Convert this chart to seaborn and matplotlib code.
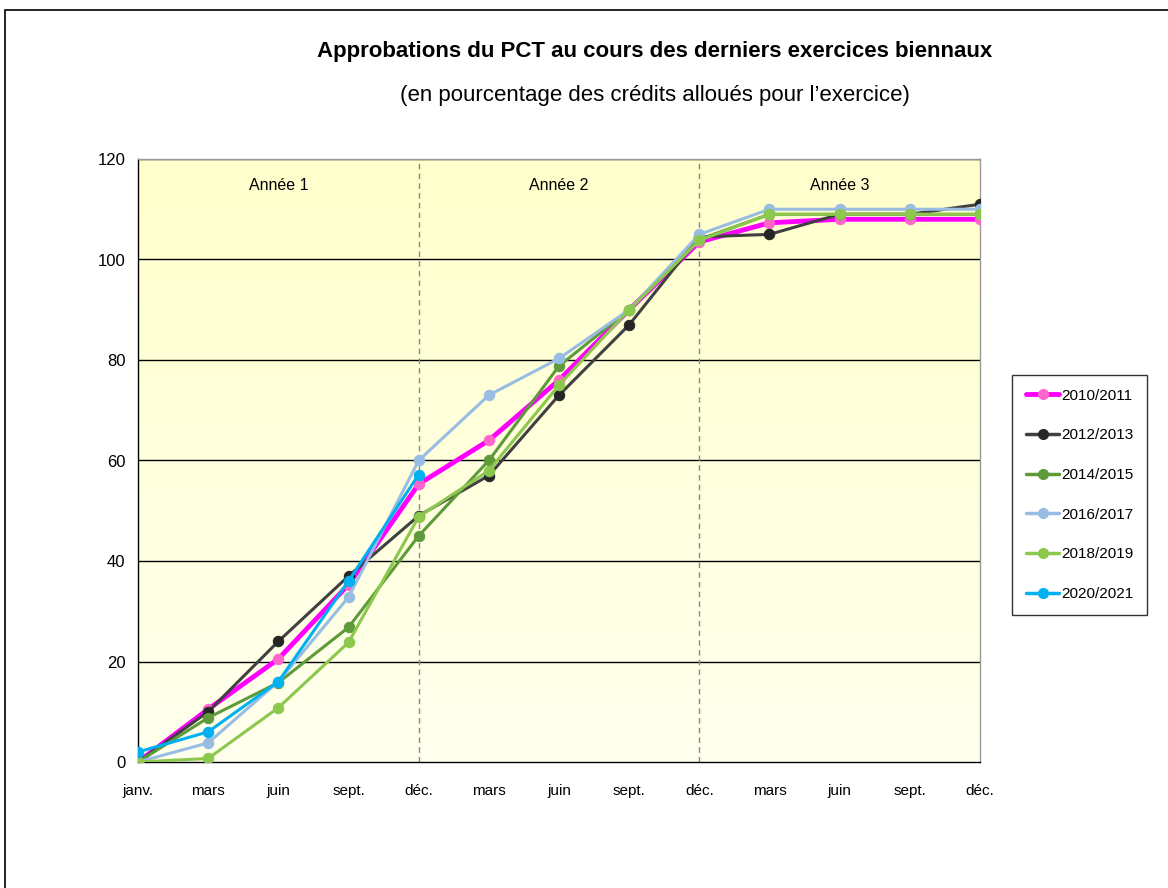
import numpy as np
import pandas as pd
import seaborn as sns
import matplotlib.pyplot as plt
from matplotlib.lines import Line2D
from matplotlib.patches import Rectangle
from matplotlib.colors import LinearSegmentedColormap

# données
mois = ['janv.', 'mars', 'juin', 'sept.', 'déc.', 'mars', 'juin', 'sept.', 'déc.',
        'mars', 'juin', 'sept.', 'déc.']
annees = ['Année 1', 'Année 2', 'Année 3']

s_2010 = [0, 10.5, 20.5, 35.3, 55.3, 64, 76, 90, 103.5, 107.3, 108, 108, 108]
s_2012 = [0, 10, 24, 37, 49, 57, 73, 87, 104.5, 105, 109, 109, 111]
s_2014 = [0, 8.8, 15.8, 26.8, 45, 60, 78.8, 90, 104, 109, 109, 109, 109]
s_2016 = [0, 3.8, 16, 32.8, 60, 73, 80.3, 90, 105, 110, 110, 110, 110]
s_2018 = [0, 0.7, 10.8, 23.8, 48.8, 58, 75, 90, 103.8, 109, 109, 109, 109]
s_2020 = [2, 6, 16, 36, 57.2]

series = {'2010/2011': s_2010, '2012/2013': s_2012, '2014/2015': s_2014,
          '2016/2017': s_2016, '2018/2019': s_2018, '2020/2021': s_2020}
couleurs = {'2010/2011': '#FF00FF', '2012/2013': '#404040', '2014/2015': '#5E9A3A',
            '2016/2017': '#99BCE2', '2018/2019': '#8CC74E', '2020/2021': '#00B0F0'}
marqueurs = {'2010/2011': '#FF66CC', '2012/2013': '#262626', '2014/2015': '#5E9A3A',
             '2016/2017': '#99BCE2', '2018/2019': '#8CC74E', '2020/2021': '#00B0F0'}

# format long pour seaborn
lignes = []
for nom, vals in series.items():
    for i, v in enumerate(vals):
        lignes.append({'serie': nom, 'pos': i, 'valeur': v})
df = pd.DataFrame(lignes)

sns.set_style('white')
plt.rcParams['font.family'] = ['Liberation Sans Narrow', 'Liberation Sans', 'DejaVu Sans']
plt.rcParams['text.color'] = 'black'
plt.rcParams['xtick.color'] = 'black'
plt.rcParams['ytick.color'] = 'black'

fig = plt.figure(figsize=(11.68, 8.88), dpi=100)
ax = fig.add_axes([138/1168, 1-762/888, (980-138)/1168, (762-159)/888])

# fond dégradé jaune
grad = np.linspace(0, 1, 256).reshape(-1, 1)
ax.imshow(grad, extent=[0, 1, 0, 1], transform=ax.transAxes, aspect='auto',
          cmap=LinearSegmentedColormap.from_list('j', ['#FFFFEE', '#FFFFCC']),
          origin='lower', zorder=0)

for nom in series:
    d = df[df['serie'] == nom]
    lw = 3.5 if nom == '2010/2011' else 2.2
    sns.lineplot(data=d, x='pos', y='valeur', ax=ax, color=couleurs[nom], linewidth=lw,
                 marker='o', markersize=7.5, markerfacecolor=marqueurs[nom],
                 markeredgecolor=marqueurs[nom], zorder=3, legend=False)

ax.set_xlim(0, 12)
ax.set_ylim(0, 120)
ax.set_yticks(range(0, 121, 20))
ax.set_xticks(range(13))
ax.set_xticklabels(mois, fontsize=11)
ax.tick_params(axis='y', labelsize=12, length=0, pad=9)
ax.tick_params(axis='x', length=0, pad=16)
ax.set_xlabel('')
ax.set_ylabel('')
for y in range(20, 121, 20):
    ax.axhline(y, color='black', linewidth=1, zorder=1)
for x in [4, 8]:
    ax.axvline(x, color='#888888', linewidth=1, linestyle=(0, (4, 3)), zorder=1)
for i, a in enumerate(annees):
    ax.text(2 + 4*i, 114.8, a, ha='center', va='center', fontsize=11.5)

for s in ['left', 'bottom']:
    ax.spines[s].set_color('black')
    ax.spines[s].set_linewidth(1)
for s in ['top', 'right']:
    ax.spines[s].set_color('#999999')
    ax.spines[s].set_linewidth(1)

handles = [Line2D([], [], color=couleurs[n], linewidth=3.5 if n == '2010/2011' else 2.5,
                  marker='o', markersize=7, markerfacecolor=marqueurs[n],
                  markeredgecolor=marqueurs[n]) for n in series]
leg = fig.legend(handles, list(series.keys()), loc='upper left',
                 bbox_to_anchor=(1012/1168, 1-375/888), frameon=True, fancybox=False,
                 fontsize=11, labelspacing=1.68, handlelength=2.2, handletextpad=0.1,
                 borderpad=0.9, borderaxespad=0)
leg.get_frame().set_edgecolor('black')
leg.get_frame().set_linewidth(1)

fig.text(655/1168, 1-52/888, 'Approbations du PCT au cours des derniers exercices biennaux',
         ha='center', va='center', fontsize=16, fontweight='bold')
fig.text(655/1168, 1-95/888, '(en pourcentage des crédits alloués pour l\u2019exercice)',
         ha='center', va='center', fontsize=16)

# cadre de la figure
fig.patches.append(Rectangle((5/1168, -0.1), 1.2, 1 - 10/888 + 0.1, transform=fig.transFigure,
                             fill=False, edgecolor='black', linewidth=1.2))

fig.savefig('out.png', dpi=100)
